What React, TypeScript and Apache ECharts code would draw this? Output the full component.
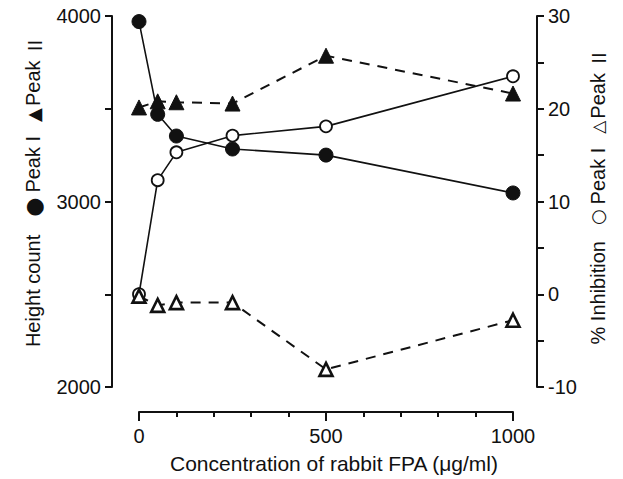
import React, { useEffect, useRef } from 'react';
import * as echarts from 'echarts';

const concentrations = [0, 50, 100, 250, 500, 1000];
const peak1Height = [3970, 3470, 3353, 3283, 3250, 3046];
const peak2Height = [3507, 3540, 3535, 3528, 3786, 3582];
const peak1Inhibition = [0, 12.3, 15.3, 17.1, 18.1, 23.5];
const peak2Inhibition = [-0.2, -1.2, -0.9, -0.9, -8.1, -2.8];

const xName = 'Concentration of rabbit FPA (\u03bcg/ml)';
const leftName = 'Height count{b|\u25cf}Peak I{tri|\u25b2}Peak {r|\u2161}';
const rightName = '% Inhibition{o|\u25cb}Peak I{otri|\u25b3}Peak {r|\u2161}';
const FONT = '"Liberation Sans", Arial, sans-serif';
const INK = '#111';

const pairs = (ys: number[]) => concentrations.map((x, i) => [x, ys[i]]);

export default function App() {
  const ref = useRef<HTMLDivElement>(null);
  useEffect(() => {
    if (!ref.current) return;
    const chart = echarts.init(ref.current, undefined, { renderer: 'svg' });
    const axisCommon = {
      axisLine: { show: true, onZero: false, lineStyle: { color: INK, width: 2 } },
      axisTick: { show: true, inside: false, length: 7, lineStyle: { color: INK, width: 2 } },
      minorTick: { show: true, splitNumber: 2, length: 7, lineStyle: { color: INK, width: 2 } },
      splitLine: { show: false },
      minorSplitLine: { show: false },
      axisLabel: { color: INK, fontSize: 20, fontFamily: FONT, margin: 11, formatter: (v: number) => String(v) },
      nameLocation: 'middle' as const,
      nameRotate: 90,
    };
    const rich = {
      r: { fontFamily: '"Noto Sans CJK JP", serif', fontSize: 19, color: INK },
      b: { fontFamily: '"DejaVu Sans", sans-serif', fontSize: 22, color: INK, padding: [0, 5, 0, 18] },
      tri: { fontFamily: '"DejaVu Sans", sans-serif', fontSize: 18, color: INK, padding: [0, 2, 0, 14] },
      o: { fontFamily: '"DejaVu Sans", sans-serif', fontWeight: 'bold', fontSize: 18, color: INK, padding: [0, 5, 0, 16] },
      otri: { fontFamily: '"DejaVu Sans", sans-serif', fontWeight: 'bold', fontSize: 17, color: INK, padding: [0, 2, 0, 14] },
    };
    chart.setOption({
      animation: false,
      grid: { left: 139, right: 110, top: 16, bottom: 90 },
      xAxis: {
        type: 'value',
        min: 0,
        max: 1000,
        interval: 500,
        offset: 25,
        axisLine: { show: true, onZero: false, lineStyle: { color: INK, width: 2 } },
        axisTick: { show: true, length: 9, lineStyle: { color: INK, width: 2 } },
        minorTick: { show: true, splitNumber: 5, length: 5, lineStyle: { color: INK, width: 2 } },
        splitLine: { show: false },
        minorSplitLine: { show: false },
        axisLabel: { color: INK, fontSize: 20, fontFamily: FONT, margin: 14, formatter: (v: number) => String(v) },
        name: xName,
        nameLocation: 'middle',
        nameGap: 41,
        nameTextStyle: { color: INK, fontSize: 21, fontFamily: FONT, padding: [0, 0, 0, 16] },
      },
      yAxis: [
        {
          ...axisCommon,
          type: 'value',
          position: 'left',
          min: 2000,
          max: 4000,
          interval: 1000,
          offset: 27,
          name: leftName,
          nameGap: 68,
          nameTextStyle: { color: INK, fontSize: 20, fontFamily: FONT, padding: [0, 0, 0, 20], rich },
        },
        {
          ...axisCommon,
          type: 'value',
          position: 'right',
          min: -10,
          max: 30,
          interval: 10,
          offset: 24,
          name: rightName,
          nameGap: 50,
          nameTextStyle: { color: INK, fontSize: 20, fontFamily: FONT, padding: [0, 0, 0, 10], rich },
        },
      ],
      series: [
        {
          name: 'Peak I height',
          type: 'line',
          yAxisIndex: 0,
          data: pairs(peak1Height),
          symbol: 'circle',
          symbolSize: 14,
          itemStyle: { color: INK, borderColor: INK },
          lineStyle: { color: INK, width: 1.6, type: 'solid' },
          z: 3,
        },
        {
          name: 'Peak II height',
          type: 'line',
          yAxisIndex: 0,
          data: pairs(peak2Height),
          symbol: 'triangle',
          symbolSize: 15,
          itemStyle: { color: INK, borderColor: INK },
          lineStyle: { color: INK, width: 2, type: [10, 8] },
          z: 3,
        },
        {
          name: 'Peak I inhibition',
          type: 'line',
          yAxisIndex: 1,
          data: pairs(peak1Inhibition),
          symbol: 'circle',
          symbolSize: 12,
          showAllSymbol: true,
          itemStyle: { color: '#fff', borderColor: INK, borderWidth: 1.8 },
          lineStyle: { color: INK, width: 1.6, type: 'solid' },
          z: 4,
        },
        {
          name: 'Peak II inhibition',
          type: 'line',
          yAxisIndex: 1,
          data: pairs(peak2Inhibition),
          symbol: 'triangle',
          symbolSize: 13,
          itemStyle: { color: '#fff', borderColor: INK, borderWidth: 2.6 },
          lineStyle: { color: INK, width: 2, type: [10, 8] },
          z: 4,
        },
      ],
    });
    return () => chart.dispose();
  }, []);
  return <div ref={ref} style={{ position: 'fixed', left: 0, top: 0, width: 623, height: 479, background: '#fff' }} />;
}
